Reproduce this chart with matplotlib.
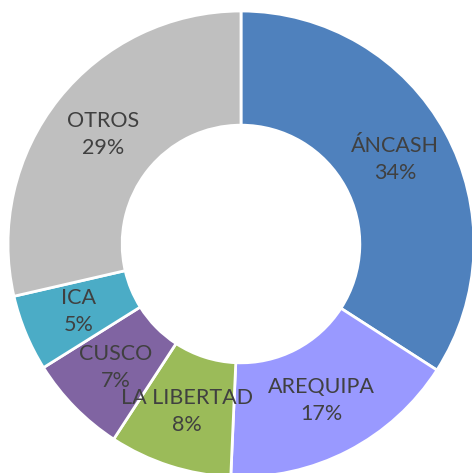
import numpy as np
import matplotlib.pyplot as plt

# Data (shares in %)
regions = ['ÁNCASH', 'AREQUIPA', 'LA LIBERTAD', 'CUSCO', 'ICA', 'OTROS']
shares = [34.1, 16.6, 8.5, 6.9, 5.3, 28.6]
colors = ['#4F81BD', '#9999FF', '#9BBB59', '#8064A2', '#4BACC6', '#BFBFBF']

fig = plt.figure(figsize=(4.72, 4.73), dpi=100)
ax = fig.add_axes([0, 0, 1, 1])

wedges, _ = ax.pie(shares, colors=colors, startangle=90, counterclock=False,
                   radius=1.0, wedgeprops=dict(width=0.49, edgecolor='white', linewidth=2))

# labels at the middle of the ring
total = sum(shares)
for w, name, val in zip(wedges, regions, shares):
    ang = np.deg2rad((w.theta1 + w.theta2) / 2)
    r = 0.755
    ax.text(r * np.cos(ang), r * np.sin(ang), f"{name}\n{val / total * 100:.0f}%",
            ha='center', va='center', fontsize=15.5, family=['Lato', 'DejaVu Sans'],
            color='#404040', linespacing=1.45)

# place the ring centre like the reference (233 px per unit)
ax.set_xlim(-241 / 233, (472 - 241) / 233)
ax.set_ylim(-(473 - 244) / 233, 244 / 233)
ax.set_aspect('auto')
ax.axis('off')

fig.savefig('out.png', dpi=100)
